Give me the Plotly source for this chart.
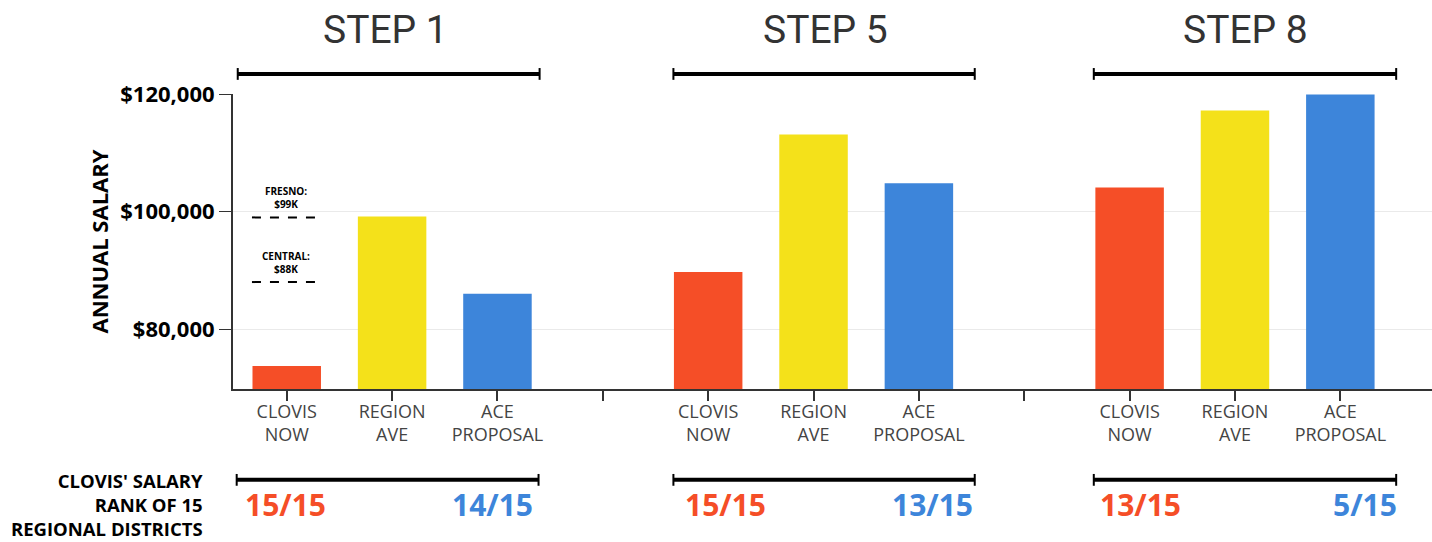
import plotly.graph_objects as go

# ---- data ----
categories = ["CLOVIS<br>NOW", "REGION<br>AVE", "ACE<br>PROPOSAL"]
steps = ["STEP 1", "STEP 5", "STEP 8"]
clovis_now = [73700, 89700, 104100]
region_ave = [99150, 113100, 117200]
ace_proposal = [86000, 104800, 119900]
rank_now = ["15/15", "15/15", "13/15"]
rank_ace = ["14/15", "13/15", "5/15"]
rank_label_lines = ["CLOVIS' SALARY", "RANK OF 15", "REGIONAL DISTRICTS"]
fresno_ref = 99000
central_ref = 88000
y_ticks = [80000, 100000, 120000]
y_tick_labels = ["$80,000", "$100,000", "$120,000"]

RED = "#F54E27"
YEL = "#F4E11A"
BLUE = "#3D85DA"

# positions: 3 bars per step, one gap slot between steps
xs, ys, cols, tick_pos, tick_txt = [], [], [], [], []
for i in range(3):
    base = i * 4
    for j, (vals, c) in enumerate([(clovis_now, RED), (region_ave, YEL), (ace_proposal, BLUE)]):
        xs.append(base + j)
        ys.append(vals[i])
        cols.append(c)
        tick_pos.append(base + j)
        tick_txt.append(categories[j])
    if i < 2:
        tick_pos.append(base + 3)
        tick_txt.append("")

fig = go.Figure()
fig.add_trace(go.Bar(x=xs, y=ys, marker=dict(color=cols, line=dict(width=0)), width=0.65,
                     hoverinfo="skip"))

# reference dashed lines
for val, label in [(fresno_ref, "FRESNO:<br>$99K"), (central_ref, "CENTRAL:<br>$88K")]:
    fig.add_shape(type="line", xref="x", yref="y", x0=-0.33, x1=0.31, y0=val, y1=val,
                  line=dict(color="black", width=2, dash="dash"))
    fig.add_annotation(x=-0.01, y=val, xref="x", yref="y", text="<b>" + label + "</b>",
                       showarrow=False, yanchor="bottom", yshift=4,
                       font=dict(family="Open Sans", size=10, color="black"))

# brackets & titles
top_br = [(-0.465, 2.40), (3.67, 6.53), (7.66, 10.53)]
bot_br = [(-0.475, 2.39), (3.67, 6.53), (7.66, 10.53)]
title_x = [0.94, 5.11, 9.1]
rank_x = [(-0.01, 1.95), (4.16, 6.13), (8.1, 10.23)]

def bracket(x0, x1, yp):
    fig.add_shape(type="line", xref="x", yref="paper", x0=x0, x1=x1, y0=yp, y1=yp,
                  line=dict(color="black", width=4))
    for xx in (x0, x1):
        fig.add_shape(type="line", xref="x", yref="paper", x0=xx, x1=xx,
                      y0=yp - 0.02, y1=yp + 0.02, line=dict(color="black", width=2))

for i in range(3):
    bracket(*top_br[i], 1.068)
    bracket(*bot_br[i], -0.308)
    fig.add_annotation(x=title_x[i], y=1.217, xref="x", yref="paper", text=steps[i],
                       showarrow=False, yanchor="middle",
                       font=dict(family="Roboto", size=39, color="#333"))
    fig.add_annotation(x=rank_x[i][0], y=-0.39, xref="x", yref="paper", text="<b>" + rank_now[i] + "</b>",
                       showarrow=False, yanchor="middle",
                       font=dict(family="Open Sans", size=30, color=RED))
    fig.add_annotation(x=rank_x[i][1], y=-0.39, xref="x", yref="paper", text="<b>" + rank_ace[i] + "</b>",
                       showarrow=False, yanchor="middle",
                       font=dict(family="Open Sans", size=30, color=BLUE))

fig.add_annotation(x=-0.024, y=-0.392, xref="paper", yref="paper",
                   text="<br>".join("<b>" + t + "</b>" for t in rank_label_lines),
                   borderpad=0, showarrow=False, xanchor="right", yanchor="middle", align="right",
                   font=dict(family="Open Sans", size=18.5, color="black"))

fig.update_layout(
    width=1432, height=542,
    margin=dict(l=233, r=0, t=94, b=153),
    paper_bgcolor="white", plot_bgcolor="white",
    showlegend=False,
    font=dict(family="Open Sans"),
    xaxis=dict(range=[-0.51, 10.87], tickmode="array", tickvals=tick_pos, ticktext=tick_txt,
               showgrid=False, zeroline=False, showline=True, linecolor="#333", linewidth=2,
               ticks="outside", ticklen=10, tickwidth=2, tickcolor="#333",
               ticklabelstandoff=-5,
               tickfont=dict(family="Open Sans", size=18, color="#444")),
    yaxis=dict(range=[69800, 120000], tickmode="array", tickvals=y_ticks, ticktext=y_tick_labels,
               showgrid=True, gridcolor="#eaeaea", gridwidth=1, zeroline=False,
               showline=True, linecolor="#333", linewidth=2,
               ticks="outside", ticklen=12, tickwidth=1, tickcolor="#333",
               tickfont=dict(family="Open Sans", size=22, color="black", weight="bold"),
               title=dict(text="<b>ANNUAL SALARY</b>", standoff=6,
                          font=dict(family="Open Sans", size=22, color="black"))),
)

fig.write_html("out.html")
